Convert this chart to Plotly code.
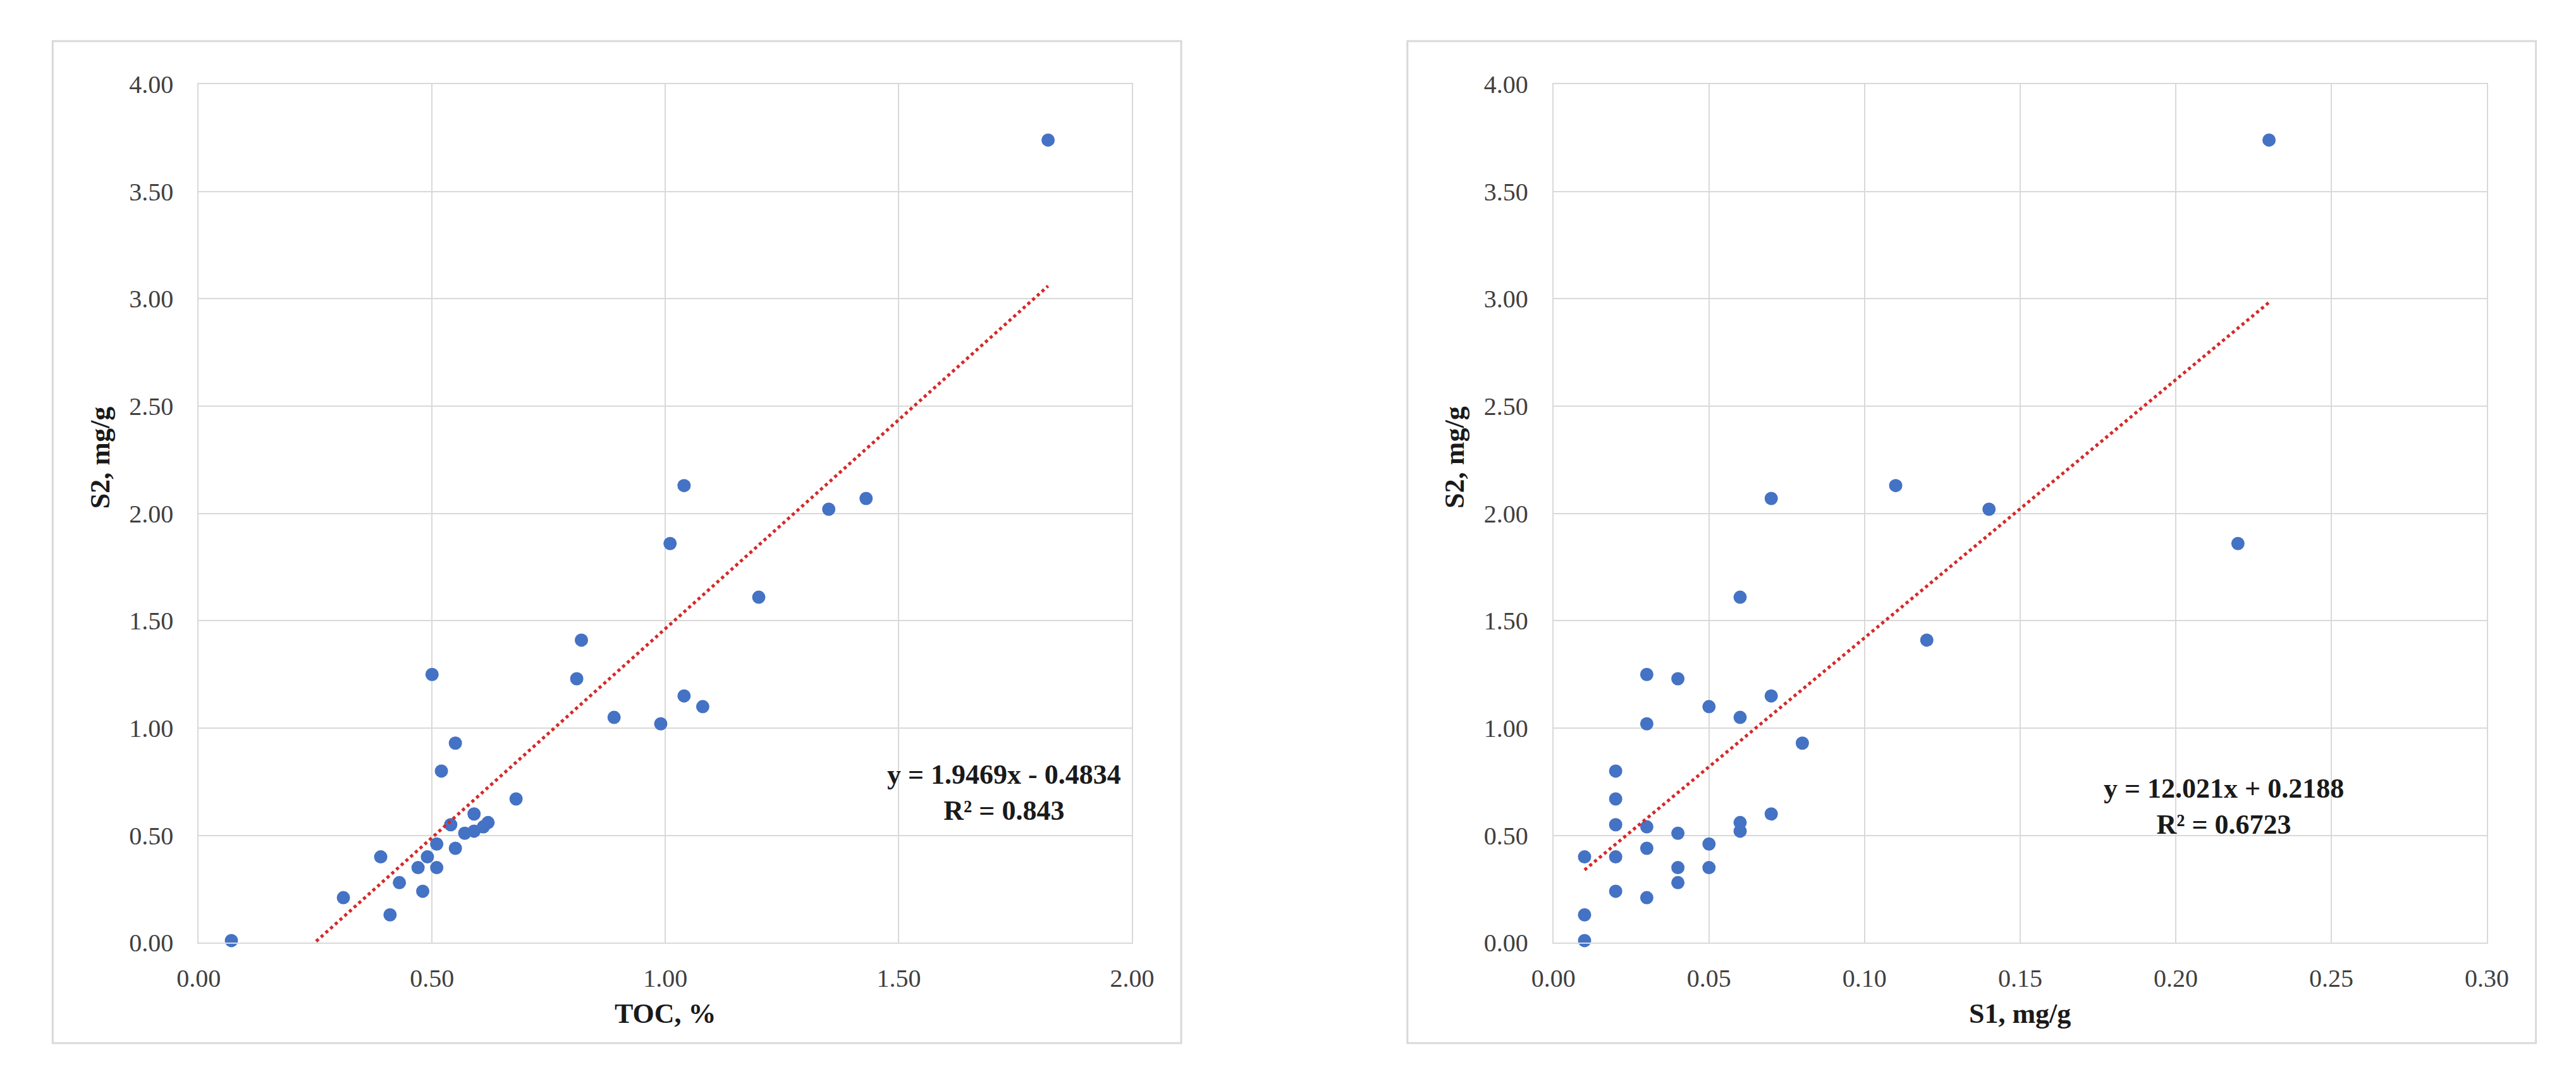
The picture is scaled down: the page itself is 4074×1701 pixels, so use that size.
import plotly.graph_objects as go

# sample data (S2 shared between both panels)
toc = [0.07, 0.31, 0.39, 0.49, 0.41, 0.43, 0.47, 0.51, 0.48, 0.51, 0.50,
       0.52, 0.54, 0.55, 0.55, 0.57, 0.59, 0.59, 0.61, 0.62, 0.68, 0.81,
       0.82, 0.89, 0.99, 1.01, 1.04, 1.04, 1.08, 1.20, 1.35, 1.43, 1.82]
s1 = [0.01, 0.03, 0.01, 0.02, 0.01, 0.04, 0.04, 0.05, 0.02, 0.05, 0.03,
      0.02, 0.02, 0.03, 0.08, 0.04, 0.06, 0.07, 0.03, 0.06, 0.02, 0.04,
      0.12, 0.06, 0.03, 0.22, 0.11, 0.07, 0.05, 0.06, 0.14, 0.07, 0.23]
s2 = [0.01, 0.21, 0.40, 0.40, 0.13, 0.28, 0.35, 0.35, 0.24, 0.46, 1.25,
      0.80, 0.55, 0.44, 0.93, 0.51, 0.52, 0.60, 0.54, 0.56, 0.67, 1.23,
      1.41, 1.05, 1.02, 1.86, 2.13, 1.15, 1.10, 1.61, 2.02, 2.07, 3.74]

# trendline coefficients as printed on the chart
slopes = [1.9469, 12.021]
intercepts = [-0.4834, 0.2188]
eq_texts = ["y = 1.9469x - 0.4834<br>R² = 0.843",
            "y = 12.021x + 0.2188<br>R² = 0.6723"]
x_titles = ["TOC, %", "S1, mg/g"]
y_title = "S2, mg/g"

W, H = 4074, 1701
BLUE = "#4472C4"
RED = "#D42A2A"
GRID = "#D9D9D9"
SERIF = "Liberation Serif"


def px_x(p):
    return p / W


def px_y(p):
    return 1 - p / H


fig = go.Figure()

xs_list = [toc, s1]
for i, xs in enumerate(xs_list):
    xa = "x" if i == 0 else "x2"
    ya = "y" if i == 0 else "y2"
    fig.add_trace(go.Scatter(
        x=xs, y=s2, mode="markers", xaxis=xa, yaxis=ya,
        marker=dict(color=BLUE, size=21, line=dict(width=0)),
        cliponaxis=False, showlegend=False,
    ))
    x0, x1 = min(xs), max(xs)
    fig.add_trace(go.Scatter(
        x=[x0, x1],
        y=[slopes[i] * x0 + intercepts[i], slopes[i] * x1 + intercepts[i]],
        mode="lines", xaxis=xa, yaxis=ya,
        line=dict(color=RED, width=5, dash="5px,5px"),
        showlegend=False,
    ))

plot_left = [276, 2456]
plot_right = [1778, 3958]
plot_top, plot_bottom = 106, 1500

axis_common = dict(
    showgrid=True, gridcolor=GRID, gridwidth=2,
    showline=True, linecolor=GRID, linewidth=2, mirror=True,
    zeroline=False, tickformat=".2f",
    tickfont=dict(family=SERIF, size=40, color="#404040"),
    ticks="outside", tickcolor="rgba(0,0,0,0)",
)

y_dom = [px_y(plot_bottom), px_y(plot_top)]
fig.update_layout(
    width=W, height=H,
    margin=dict(l=0, r=0, t=0, b=0),
    paper_bgcolor="white", plot_bgcolor="white",
    xaxis=dict(domain=[px_x(plot_left[0]), px_x(plot_right[0])],
               range=[0, 2.0], dtick=0.5, anchor="y", ticklen=20, **axis_common),
    yaxis=dict(domain=y_dom, range=[0, 4.0], dtick=0.5, anchor="x",
               ticklen=30, **axis_common),
    xaxis2=dict(domain=[px_x(plot_left[1]), px_x(plot_right[1])],
                range=[0, 0.30], dtick=0.05, anchor="y2", ticklen=20, **axis_common),
    yaxis2=dict(domain=y_dom, range=[0, 4.0], dtick=0.5, anchor="x2",
                ticklen=30, **axis_common),
)

# chart area borders
borders = [(41, 1857), (2221, 4037)]
for bx0, bx1 in borders:
    fig.add_shape(type="rect", xref="paper", yref="paper",
                  x0=px_x(bx0), x1=px_x(bx1), y0=px_y(1663), y1=px_y(36),
                  line=dict(color=GRID, width=3), layer="below")

title_font = dict(family=SERIF, size=44, color="#1a1a1a")
y_title_x = [117, 2297]
for i in range(2):
    cx = (plot_left[i] + plot_right[i]) / 2
    fig.add_annotation(text="<b>" + x_titles[i] + "</b>", xref="paper", yref="paper",
                       x=px_x(cx), y=px_y(1615), showarrow=False,
                       xanchor="center", yanchor="middle", font=title_font)
    fig.add_annotation(text="<b>" + y_title + "</b>", xref="paper", yref="paper",
                       x=px_x(y_title_x[i]), y=px_y(712), showarrow=False,
                       textangle=-90, xanchor="center", yanchor="middle", font=title_font)

# trendline equations
eq_pos = [(1.726, 0.70), (0.2155, 0.634)]
for i in range(2):
    xa = "x" if i == 0 else "x2"
    ya = "y" if i == 0 else "y2"
    fig.add_annotation(text="<b>" + eq_texts[i].replace("<br>", "</b><br><b>") + "</b>",
                       xref=xa, yref=ya, x=eq_pos[i][0], y=eq_pos[i][1],
                       showarrow=False, align="center",
                       xanchor="center", yanchor="middle",
                       font=dict(family=SERIF, size=44, color="#1a1a1a"))

fig.write_html("out.html")
